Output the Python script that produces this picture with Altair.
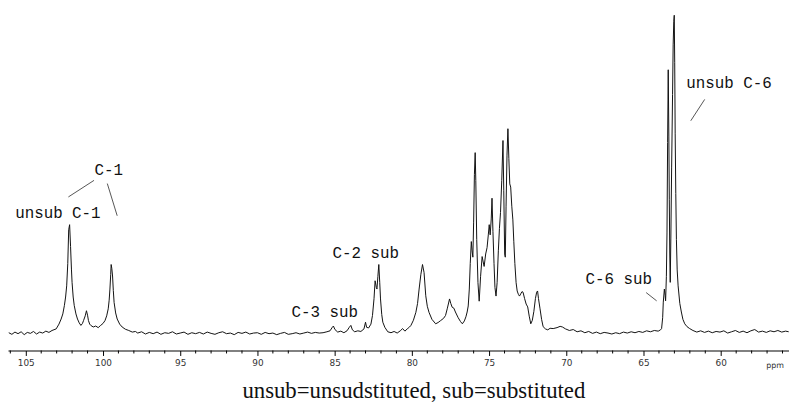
import altair as alt
import pandas as pd

# ---- spectrum trace, (ppm, relative intensity) ----
BASE_LEFT = [(106.1, 0.3), (105.9, -0.2), (105.7, 0.5), (105.5, 0.0), (105.3, 0.6), (105.1, -0.3),
             (104.9, 0.4), (104.7, 0.1), (104.5, 0.7), (104.3, -0.1), (104.1, 0.5), (103.9, 0.2),
             (103.7, 0.8), (103.5, 0.4), (103.3, 1.0)]
PEAKS_C1 = [(103.03, 1.5), (102.85, 3.0), (102.71, 4.6), (102.6, 6.2), (102.5, 8.8), (102.42, 11.5),
            (102.35, 15), (102.28, 22), (102.22, 32.6), (102.16, 34.2), (102.1, 27.4), (102.04, 20),
            (102.0, 16), (101.93, 11.5), (101.86, 8.8), (101.75, 6.2), (101.65, 4.6), (101.54, 3.4),
            (101.43, 2.6), (101.33, 3.2), (101.26, 4.1), (101.15, 5.6), (101.07, 7.2), (101.0, 5.8),
            (100.94, 4.1), (100.86, 3.0), (100.79, 2.6), (100.63, 2.1), (100.47, 2.4), (100.31, 1.9),
            (100.15, 2.6), (100.0, 3.2), (99.87, 4.1), (99.76, 5.6), (99.66, 7.8), (99.6, 10.5),
            (99.55, 14), (99.5, 18.5), (99.47, 21.7), (99.43, 20.5), (99.38, 18.1), (99.33, 13.5),
            (99.28, 9.8), (99.18, 6.5), (99.08, 4.6), (98.92, 3.0), (98.76, 2.1), (98.55, 1.4),
            (98.33, 1.0), (98.1, 0.5), (97.9, 0.7)]
BASE_MID = [(97.75, 0.2), (97.5, 0.6), (97.25, -0.1), (97.0, 0.4), (96.75, 0.0), (96.5, 0.5),
            (96.25, -0.2), (96.0, 0.3), (95.75, 0.1), (95.5, 0.6), (95.25, -0.1), (95.0, 0.2),
            (94.75, 0.5), (94.5, -0.2), (94.25, 0.3), (94.0, 0.0), (93.75, 0.4), (93.5, -0.1),
            (93.25, 0.5), (93.0, 0.1), (92.75, -0.2), (92.5, 0.3), (92.25, 0.6), (92.0, 0.0),
            (91.75, 0.2), (91.5, -0.3), (91.25, 0.4), (91.0, 0.1), (90.75, 0.5), (90.5, -0.1),
            (90.25, 0.2), (90.0, 0.3), (89.75, -0.2), (89.5, 0.4), (89.25, 0.0), (89.0, 0.2),
            (88.75, -0.3), (88.5, 0.1), (88.25, 0.4), (88.0, -0.2), (87.75, 0.0), (87.5, 0.3),
            (87.25, -0.1), (87.0, 0.2), (86.75, 0.5), (86.5, 0.1), (86.25, 0.4), (86.0, 0.2)]
PEAKS_C2 = [(85.75, 0.3), (85.5, 0.6), (85.3, 0.9), (85.15, 2.0), (85.08, 2.4), (84.98, 1.3),
            (84.8, 0.5), (84.6, 0.8), (84.4, 0.3), (84.2, 0.9), (84.05, 2.0), (83.95, 2.6),
            (83.85, 1.2), (83.7, 0.6), (83.5, 0.9), (83.3, 0.7), (83.1, 1.5), (83.0, 3.6),
            (82.93, 2.0), (82.8, 1.8), (82.65, 3.0), (82.55, 5.7), (82.45, 11), (82.38, 16.6),
            (82.3, 14.5), (82.26, 14), (82.2, 18), (82.14, 21.7), (82.08, 16), (82.03, 10.9),
            (81.95, 6), (81.88, 3.6), (81.75, 2.0), (81.56, 0.6), (81.35, 0.3), (81.15, 0.7),
            (80.95, 0.2), (80.75, 0.9), (80.6, 1.6), (80.45, 0.8), (80.3, 1.5), (80.15, 2.1),
            (80.06, 2.6), (79.9, 4.2), (79.74, 6.7), (79.63, 9.5), (79.53, 14), (79.42, 18.5),
            (79.31, 21.7), (79.21, 19.2), (79.1, 11.9), (79.0, 8.6), (78.89, 6.7), (78.7, 4.5),
            (78.46, 3.1), (78.3, 3.5), (78.14, 4.1), (77.95, 4.8), (77.82, 5.7), (77.7, 8.0),
            (77.56, 10.9), (77.48, 9.5), (77.39, 8.3), (77.28, 8.0), (77.18, 6.8), (77.0, 5.0)]
PEAKS_C3_C5 = [(76.85, 3.8), (76.73, 3.1), (76.6, 4.0), (76.5, 5.3), (76.42, 6.8), (76.35, 8.7),
               (76.28, 14), (76.22, 22), (76.15, 28.9), (76.1, 26), (76.05, 24), (76.0, 35),
               (75.95, 50), (75.9, 56.8), (75.86, 48), (75.8, 29.5), (75.72, 16), (75.64, 10.2),
               (75.55, 18), (75.45, 24.2), (75.38, 22.5), (75.32, 21.1), (75.22, 25), (75.13, 27),
               (75.05, 31), (74.99, 34.2), (74.93, 31), (74.86, 36), (74.81, 42.5), (74.75, 32),
               (74.68, 22), (74.62, 14.5), (74.55, 11.8), (74.48, 16), (74.4, 26), (74.33, 33),
               (74.26, 38), (74.18, 48), (74.1, 60.6), (74.05, 45), (73.99, 25), (73.95, 24),
               (73.9, 40), (73.84, 56), (73.78, 64.3), (73.72, 55), (73.66, 47), (73.6, 46),
               (73.53, 40), (73.46, 35.7), (73.4, 29), (73.33, 22), (73.25, 16), (73.18, 13.4),
               (73.1, 12.3), (73.03, 11.8), (72.95, 12.5), (72.87, 13.2), (72.8, 13), (72.7, 11),
               (72.6, 9.3), (72.5, 8.4), (72.4, 5.5), (72.3, 3.1), (72.2, 4.2), (72.1, 7),
               (72.0, 11), (71.92, 13), (71.86, 13.4), (71.8, 11), (71.7, 7.8), (71.6, 4.5),
               (71.5, 2.2), (71.35, 1.5), (71.2, 1.2), (71.05, 1.7)]
BASE_RIGHT1 = [(70.85, 1.6), (70.6, 1.9), (70.4, 2.3), (70.25, 2.1), (70.05, 1.5), (69.8, 1.0),
               (69.55, 1.3), (69.3, 0.6), (69.05, 0.9), (68.8, 0.3), (68.55, 0.7), (68.3, 0.1),
               (68.05, 0.5), (67.8, 0.0), (67.55, 0.4), (67.3, 0.2), (67.05, -0.1), (66.8, 0.3),
               (66.55, 0.0), (66.3, 0.5), (66.05, 0.2), (65.8, 0.6), (65.55, 0.3), (65.3, 0.7),
               (65.05, 0.4), (64.8, 0.9), (64.55, 0.6), (64.3, 1.0), (64.05, 0.8), (63.9, 1.2)]
PEAKS_C6 = [(63.83, 1.6), (63.76, 5), (63.72, 9.9), (63.65, 14), (63.6, 12), (63.57, 10.3),
            (63.52, 18), (63.48, 31.6), (63.44, 60), (63.4, 82.8), (63.36, 62), (63.33, 42),
            (63.3, 25), (63.27, 16.1), (63.23, 30), (63.18, 52), (63.12, 75), (63.08, 90.6),
            (63.04, 98), (63.01, 99.9), (62.98, 85), (62.95, 62.7), (62.91, 44), (62.87, 29.5),
            (62.82, 20), (62.76, 15), (62.65, 9.5), (62.55, 6.8), (62.45, 4.5), (62.33, 3.1),
            (62.18, 2.2), (62.01, 1.6), (61.8, 1.0)]
BASE_RIGHT2 = [(61.55, 0.5), (61.3, 0.9), (61.05, 0.4), (60.8, 0.8), (60.55, 0.3), (60.3, 0.7),
               (60.05, 0.5), (59.8, 0.9), (59.55, 0.2), (59.3, 0.6), (59.05, 1.0), (58.8, 0.4),
               (58.55, 0.8), (58.3, 0.3), (58.05, 0.9), (57.8, 1.3), (57.55, 0.5), (57.3, 0.8),
               (57.05, 0.4), (56.8, 0.9), (56.55, 0.6), (56.3, 1.0), (56.05, 0.5), (55.8, 0.8),
               (55.6, 0.6)]

MAJOR_TICKS = [105, 100, 95, 90, 85, 80, 75, 70, 65, 60]
MINOR_TICKS = [106, 104, 103, 102, 101, 99, 98, 97, 96, 94, 93, 92, 91, 89, 88, 87, 86,
               84, 83, 82, 81, 79, 78, 77, 76, 74, 73, 72, 71, 69, 68, 67, 66, 64, 63, 62,
               61, 59, 58, 57, 56]

LABEL_TEXT = ["C-1", "unsub C-1", "C-2 sub", "C-3 sub", "C-6 sub", "unsub C-6"]
LABEL_PPM = [99.62, 102.92, 82.98, 85.64, 66.60, 59.46]
LABEL_INT = [51.2, 37.9, 25.2, 6.8, 17.1, 78.6]

LEADER_PPM = [102.24, 99.72, 64.83, 61.04]
LEADER_INT = [42.9, 47.1, 12.9, 73.5]
LEADER_PPM2 = [100.58, 99.08, 64.15, 61.94]
LEADER_INT2 = [48.1, 37.0, 10.3, 66.8]

CAPTION = "unsub=unsudstituted, sub=substituted"
UNIT = "ppm"

trace = BASE_LEFT + PEAKS_C1 + BASE_MID + PEAKS_C2 + PEAKS_C3_C5 + BASE_RIGHT1 + PEAKS_C6 + BASE_RIGHT2
df = pd.DataFrame(trace, columns=["ppm", "intensity"])
df["order"] = range(len(df))

xscale = alt.Scale(domain=[55.58, 106.15], reverse=True, nice=False, zero=False)
yscale = alt.Scale(domain=[-5.28, 101.55], nice=False, zero=False)

XAXIS = alt.Axis(values=MAJOR_TICKS, title=None, grid=False, tickSize=5,
                 tickColor="#000000", domainColor="#000000", domainWidth=1,
                 labelFont="DejaVu Sans", labelFontSize=9, labelColor="#333333",
                 labelPadding=3, labelFlush=False, labelOverlap=False, format="d")

line = alt.Chart(df).mark_line(color="#111111", strokeWidth=1, clip=True).encode(
    x=alt.X("ppm:Q", scale=xscale, axis=XAXIS),
    y=alt.Y("intensity:Q", scale=yscale, axis=None),
    order="order:Q",
)

minor = alt.Chart(pd.DataFrame({"ppm": MINOR_TICKS})).mark_rule(color="#000000", strokeWidth=1).encode(
    x=alt.X("ppm:Q", scale=xscale, axis=XAXIS),
    y=alt.value(344),
    y2=alt.value(347),
)

labels = alt.Chart(pd.DataFrame({"t": LABEL_TEXT, "ppm": LABEL_PPM, "intensity": LABEL_INT})).mark_text(
    font="Liberation Mono", fontSize=16, color="#111111", align="center", baseline="middle"
).encode(
    x=alt.X("ppm:Q", scale=xscale, axis=XAXIS),
    y=alt.Y("intensity:Q", scale=yscale, axis=None),
    text="t:N",
)

leaders = alt.Chart(pd.DataFrame({"ppm": LEADER_PPM, "b": LEADER_INT, "a2": LEADER_PPM2, "b2": LEADER_INT2})).mark_rule(
    color="#555555", strokeWidth=1
).encode(
    x=alt.X("ppm:Q", scale=xscale, axis=XAXIS),
    x2="a2:Q",
    y=alt.Y("b:Q", scale=yscale, axis=None),
    y2="b2:Q",
)

caption = alt.Chart(pd.DataFrame({"t": [CAPTION]})).mark_text(
    font="Liberation Serif", fontSize=23, color="#111111", align="center", baseline="alphabetic"
).encode(text="t:N", x=alt.value(410), y=alt.value(392))

unit = alt.Chart(pd.DataFrame({"t": [UNIT]})).mark_text(
    font="DejaVu Sans", fontSize=8, color="#333333", align="left", baseline="alphabetic"
).encode(text="t:N", x=alt.value(766), y=alt.value(362))

chart = alt.layer(line, minor, leaders, labels, caption, unit).properties(
    width=789, height=344,
    autosize=alt.AutoSizeParams(type="none"),
    padding={"left": 0, "top": 0, "right": 0, "bottom": 51},
).configure_view(stroke=None)

chart.save("out.html", embed_options={"renderer": "svg", "actions": False})
